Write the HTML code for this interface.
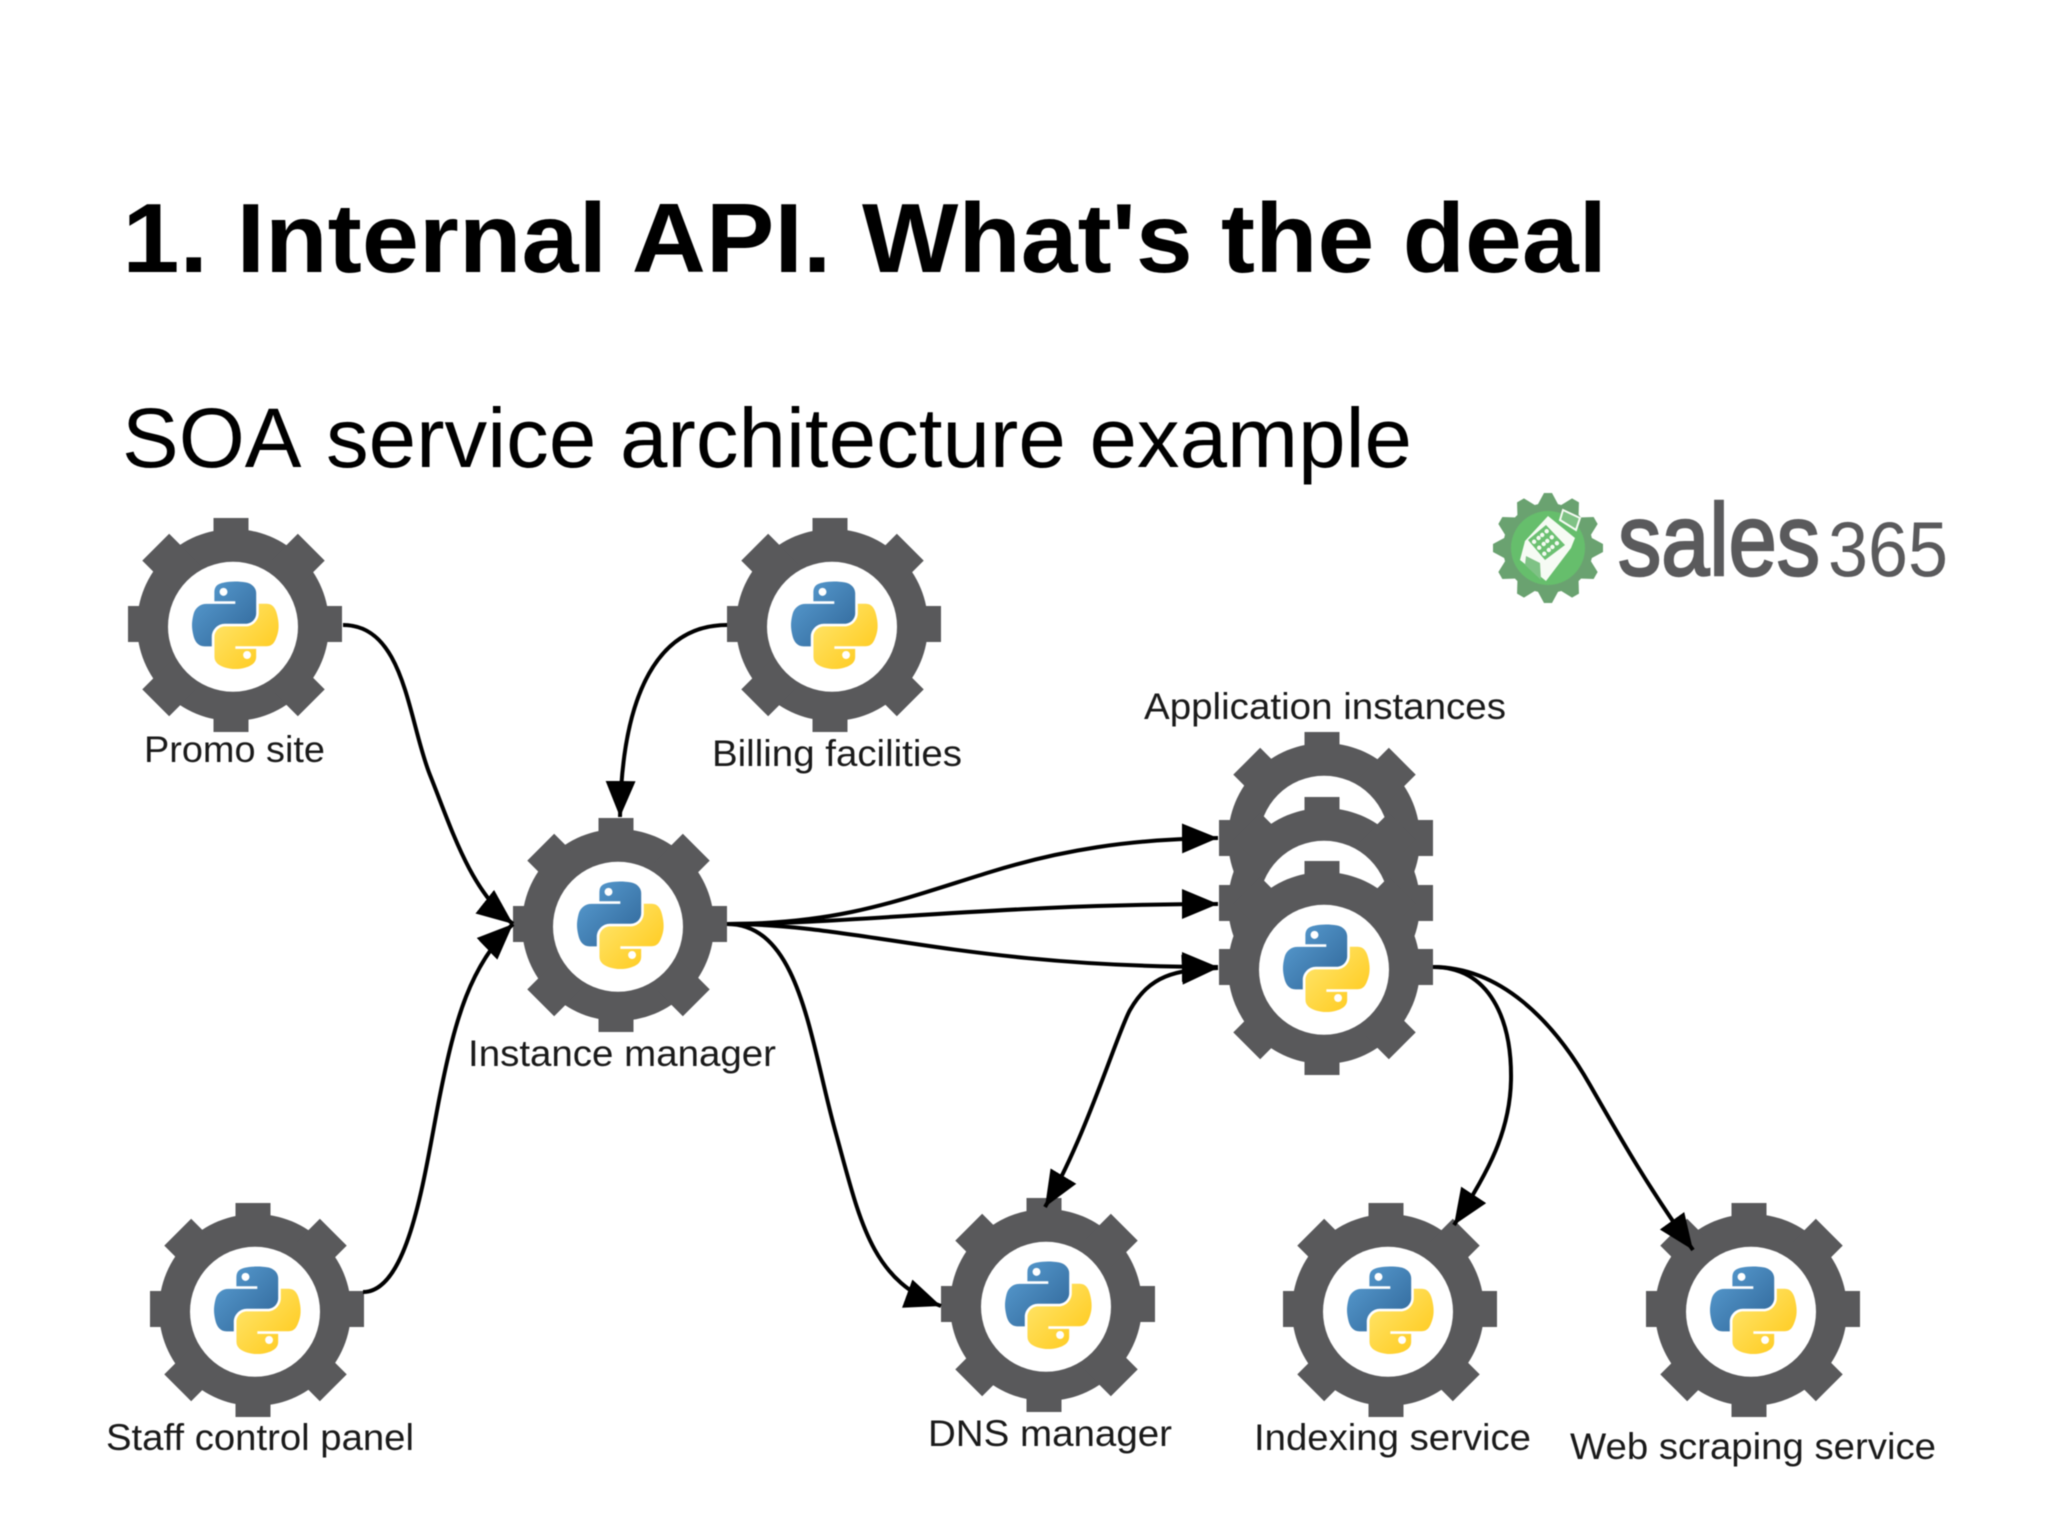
<!DOCTYPE html>
<html><head><meta charset="utf-8"><title>SOA service architecture example</title>
<style>
html,body{margin:0;padding:0;background:#fff;width:2048px;height:1536px;overflow:hidden}
svg{display:block;filter:blur(.6px)}
text{font-family:"Liberation Sans",Arial,sans-serif;fill:#1a1a1a}
.l{font-size:37px}
.c{fill:none;stroke:#000;stroke-width:4}
</style></head><body>
<svg width="2048" height="1536" viewBox="0 0 2048 1536" xmlns="http://www.w3.org/2000/svg">
<defs>
<linearGradient id="b" x1="0" y1="0" x2="1" y2="1"><stop offset="0" stop-color="#5a9fd4"/><stop offset="1" stop-color="#2f6597"/></linearGradient>
<linearGradient id="y" x1="0" y1="0" x2="1" y2="1"><stop offset="0" stop-color="#ffe873"/><stop offset="1" stop-color="#ffc714"/></linearGradient>
<g id="base">
<circle cx="-2" cy="0" r="96" fill="#59595b"/>
<g fill="#59595b">
<rect x="-21.5" y="-107" width="35" height="214"/>
<rect x="-107" y="-19" width="214" height="36"/>
<rect x="-19" y="-110" width="38" height="220" transform="translate(-1.5,0) rotate(45)"/>
<rect x="-19" y="-110" width="38" height="220" transform="translate(-1.5,0) rotate(135)"/>
</g>
<ellipse cx="-2" cy="1.7" rx="65" ry="65" fill="#fff"/>
</g>
<g id="logo" transform="translate(-43,-43.5) scale(.78)">
<path fill="url(#b)" d="M54.919 0C50.335.021 45.958.412 42.106 1.094 30.757 3.099 28.696 7.295 28.696 15.031V25.25H55.515v3.406H28.696 18.631c-7.794 0-14.62 4.685-16.755 13.597-2.463 10.213-2.573 16.586 0 27.25 1.907 7.938 6.461 13.594 14.256 13.594h9.221V70.845c0-8.85 7.657-16.656 16.755-16.656H68.895c7.457 0 13.41-6.14 13.41-13.628V15.031c0-7.272-6.135-12.735-13.41-13.937C64.289.328 59.504-.021 54.919 0zM40.406 8.219c2.77 0 5.031 2.299 5.031 5.125 0 2.816-2.261 5.094-5.031 5.094-2.78 0-5.031-2.278-5.031-5.094 0-2.826 2.251-5.125 5.031-5.125z"/>
<path fill="url(#y)" d="M85.638 28.657V40.562c0 9.231-7.826 17-16.75 17H42.169c-7.32 0-13.375 6.265-13.375 13.594v25.469c0 7.249 6.303 11.512 13.375 13.594 8.468 2.49 16.59 2.94 26.719 0 6.733-1.949 13.375-5.873 13.375-13.594V86.438H55.575v-3.406H82.263h13.375c7.773 0 10.669-5.42 13.375-13.594 2.795-8.416 2.676-16.508 0-27.25-1.922-7.734-5.594-13.594-13.375-13.594H85.638zM70.606 89.1c2.774 0 5.02 2.278 5.02 5.094 0 2.826-2.246 5.125-5.02 5.125-2.764 0-5.02-2.299-5.02-5.125 0-2.816 2.256-5.094 5.02-5.094z"/>
</g>
<g id="gear"><use href="#base"/><use href="#logo"/></g>
<marker id="a" markerUnits="userSpaceOnUse" markerWidth="38" markerHeight="32" refX="36" refY="15" orient="auto"><path d="M0 0L36 15L0 30z" fill="#000"/></marker>
<marker id="s" markerUnits="userSpaceOnUse" markerWidth="38" markerHeight="32" refX="0" refY="15" orient="auto"><path d="M36 0L0 15L36 30z" fill="#000"/></marker>
</defs>
<rect width="2048" height="1536" fill="#fff"/>
<text x="122.4" y="272" font-size="98" font-weight="700" textLength="709" lengthAdjust="spacingAndGlyphs" style="fill:#000">1. Internal API.</text>
<text x="862" y="272" font-size="98" font-weight="700" textLength="745" lengthAdjust="spacingAndGlyphs" style="fill:#000">What's the deal</text>
<text x="122" y="467" font-size="84" textLength="179.5" lengthAdjust="spacingAndGlyphs" style="fill:#000">SOA</text>
<text x="326" y="467" font-size="84" textLength="1086" lengthAdjust="spacingAndGlyphs" style="fill:#000">service architecture example</text>

<use href="#base" x="1326" y="839"/>
<use href="#base" x="1326" y="904"/>
<use href="#gear" x="1326" y="968"/>
<use href="#gear" x="235" y="625"/>
<use href="#gear" x="834" y="625"/>
<use href="#gear" x="620" y="925"/>
<use href="#gear" x="257" y="1310"/>
<use href="#gear" x="1048" y="1305"/>
<use href="#gear" x="1390" y="1310"/>
<use href="#gear" x="1753" y="1310"/>

<path class="c" d="M343 625C405 625 408 720 430 775C452 830 470 890 513 924" marker-end="url(#a)"/>
<path class="c" d="M727 625C660 625 622 690 620 817" marker-end="url(#a)"/>
<path class="c" d="M363 1292C410 1292 425 1170 440 1095C455 1020 470 965 513 924" marker-end="url(#a)"/>
<path class="c" d="M727 924C840 924 900 900 987 873C1060 850 1130 839 1218 838" marker-end="url(#a)"/>
<path class="c" d="M727 924C850 924 1000 904 1218 904" marker-end="url(#a)"/>
<path class="c" d="M727 924C860 924 960 967 1218 967" marker-end="url(#a)"/>
<path class="c" d="M727 924C800 924 810 1040 835 1130C860 1220 870 1280 941 1306" marker-end="url(#a)"/>
<path class="c" d="M1218 968C1175 970 1150 975 1130 1010C1118 1031 1085 1140 1045 1207" marker-start="url(#s)" marker-end="url(#a)"/>
<path class="c" d="M1433 967C1490 967 1512 1020 1511 1080C1510 1130 1490 1170 1454 1225" marker-end="url(#a)"/>
<path class="c" d="M1433 967C1500 967 1553 1020 1590 1085C1622 1141 1650 1190 1693 1250" marker-end="url(#a)"/>

<text class="l" x="144" y="762" textLength="181" lengthAdjust="spacingAndGlyphs">Promo site</text>
<text class="l" x="712" y="766" textLength="250" lengthAdjust="spacingAndGlyphs">Billing facilities</text>
<text class="l" x="1144" y="719" textLength="362" lengthAdjust="spacingAndGlyphs">Application instances</text>
<text class="l" x="468" y="1066" textLength="308" lengthAdjust="spacingAndGlyphs">Instance manager</text>
<text class="l" x="106" y="1450" textLength="308" lengthAdjust="spacingAndGlyphs">Staff control panel</text>
<text class="l" x="928" y="1446" textLength="244" lengthAdjust="spacingAndGlyphs">DNS manager</text>
<text class="l" x="1254" y="1450" textLength="277" lengthAdjust="spacingAndGlyphs">Indexing service</text>
<text class="l" x="1570" y="1459" textLength="366" lengthAdjust="spacingAndGlyphs">Web scraping service</text>

<g transform="translate(1548,548)">
<g fill="#6aa270">
<circle r="45"/>
<path d="M-11 -42L-4 -55L4 -55L11 -42z"/><path d="M-11 -42L-4 -55L4 -55L11 -42z" transform="rotate(30)"/><path d="M-11 -42L-4 -55L4 -55L11 -42z" transform="rotate(60)"/><path d="M-11 -42L-4 -55L4 -55L11 -42z" transform="rotate(90)"/><path d="M-11 -42L-4 -55L4 -55L11 -42z" transform="rotate(120)"/><path d="M-11 -42L-4 -55L4 -55L11 -42z" transform="rotate(150)"/><path d="M-11 -42L-4 -55L4 -55L11 -42z" transform="rotate(180)"/><path d="M-11 -42L-4 -55L4 -55L11 -42z" transform="rotate(210)"/><path d="M-11 -42L-4 -55L4 -55L11 -42z" transform="rotate(240)"/><path d="M-11 -42L-4 -55L4 -55L11 -42z" transform="rotate(270)"/><path d="M-11 -42L-4 -55L4 -55L11 -42z" transform="rotate(300)"/><path d="M-11 -42L-4 -55L4 -55L11 -42z" transform="rotate(330)"/>
</g>
<circle r="37" fill="#66be6c"/>
<path d="M0 -32L27 -10L23 0L-2 33L-28 12L-23 -7z" fill="#f6fbf4"/>
<path d="M15 -38L32 -30L28 -18L12 -28z" fill="#7fc285" stroke="#f6fbf4" stroke-width="2"/>
<path d="M-20 -8L-2 -23L17 -3L-3 12z" fill="#6cc072"/>
<g fill="#f6fbf4"><circle cx="-13.9" cy="-6.25" r="2.2"/><circle cx="-9.4" cy="-10" r="2.2"/><circle cx="-5.8" cy="-13" r="2.2"/><circle cx="-1.3" cy="-16.75" r="2.2"/><circle cx="-8.8" cy="-.25" r="2.2"/><circle cx="-4.3" cy="-4" r="2.2"/><circle cx="-.7" cy="-7" r="2.2"/><circle cx="3.8" cy="-10.75" r="2.2"/><circle cx="-3.7" cy="5.75" r="2.2"/><circle cx=".8" cy="2" r="2.2"/><circle cx="4.4" cy="-1" r="2.2"/><circle cx="8.9" cy="-4.75" r="2.2"/></g>
<path d="M-22 8L-8 15L-7 32L-23 17z" fill="#7fc285"/>
</g>
<text x="1618" y="575" font-size="102" textLength="202" lengthAdjust="spacingAndGlyphs" style="fill:#5a5a5c;stroke:#5a5a5c;stroke-width:2.5">sales</text>
<text x="1828" y="576" font-size="78" textLength="120" lengthAdjust="spacingAndGlyphs" style="fill:#5a5a5c">365</text>
</svg>
</body></html>
